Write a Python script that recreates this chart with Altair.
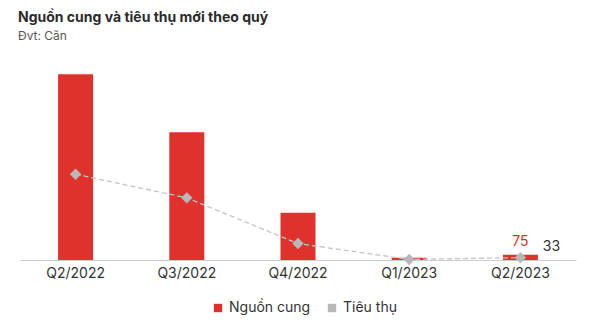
import altair as alt
import pandas as pd

# Quarterly new supply and absorption (units)
quarters = ["Q2/2022", "Q3/2022", "Q4/2022", "Q1/2023", "Q2/2023"]
supply = [2600, 1790, 660, 30, 75]
sales = [1200, 870, 230, 8, 33]

RED = "#E0322D"
GRAY = "#B8B8B8"
FONT = "Inter"
SERIES = ["Nguồn cung", "Tiêu thụ"]

df = pd.DataFrame({"quarter": quarters, "supply": supply, "sales": sales})
df["s_name"] = SERIES[0]
df["t_name"] = SERIES[1]

x = alt.X("quarter:N", sort=quarters, title=None,
          scale=alt.Scale(paddingInner=0.685, paddingOuter=0.3425),
          axis=alt.Axis(labelAngle=0, labelFontSize=14, labelColor="#333333",
                        labelPadding=6, ticks=False, domainColor="#CCCCCC",
                        labelFont=FONT))
yscale = alt.Scale(domain=[0, 2800], nice=False, zero=True)
series_scale = alt.Scale(domain=SERIES, range=[RED, GRAY])

base = alt.Chart(df)

bars = base.mark_bar(color=RED).encode(
    x=x,
    y=alt.Y("supply:Q", scale=yscale, axis=None),
    color=alt.Color("s_name:N", scale=series_scale,
                    legend=alt.Legend(title=None, orient="none", direction="horizontal",
                                      legendX=191, legendY=241,
                                      symbolType="square", symbolSize=70,
                                      labelFontSize=14, labelColor="#333333",
                                      labelFont=FONT, columnPadding=14)),
)

line = base.mark_line(color="#C4C4C4", strokeDash=[5, 3], strokeWidth=1.3).encode(
    x=x, y=alt.Y("sales:Q", scale=yscale, axis=None),
)

points = base.mark_point(shape="diamond", filled=True, size=130, opacity=1).encode(
    x=x, y=alt.Y("sales:Q", scale=yscale, axis=None),
    color=alt.Color("t_name:N", scale=series_scale, legend=None),
)

last = base.transform_filter(alt.datum.quarter == "Q2/2023")

supply_label = last.mark_text(color=RED, fontSize=14, font=FONT, dy=-13).encode(
    x=x, y=alt.Y("supply:Q", scale=yscale), text="supply:Q",
)
sales_label = last.mark_text(color="#333333", fontSize=14, font=FONT, dx=31, dy=-11).encode(
    x=x, y=alt.Y("sales:Q", scale=yscale), text="sales:Q",
)

chart = alt.layer(bars, line, points, supply_label, sales_label).properties(
    width=556, height=200,
    padding={"left": 20, "top": 60, "right": 24, "bottom": 64},
    autosize=alt.AutoSizeParams(type="none"),
    title=alt.TitleParams(
        "Nguồn cung và tiêu thụ mới theo quý",
        subtitle="Đvt: Căn",
        anchor="start", frame="group", offset=18, dx=-2,
        font=FONT, fontSize=14, fontWeight="bold", color="#2B2B2B",
        subtitleFont=FONT, subtitleFontSize=12, subtitleColor="#555555",
        subtitlePadding=6,
    ),
).configure_view(stroke=None)

chart.save("out.html", embed_options={"renderer": "svg", "actions": False})
